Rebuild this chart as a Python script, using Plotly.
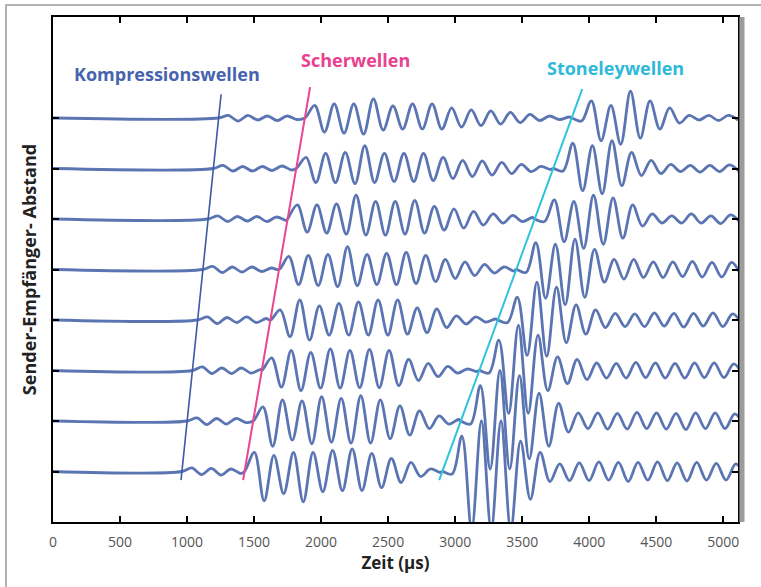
import plotly.graph_objects as go

# Vertical offsets of the eight receiver traces, from the farthest (top) to the nearest (bottom)
trace_offsets = [8, 7, 6, 5, 4, 3, 2, 1]

# Arrival times in µs at each receiver: compressional, shear and Stoneley onsets
p_arrival = [1235, 1196, 1157, 1118, 1079, 1040, 1001, 962]
s_arrival = [1879, 1815, 1750, 1686, 1622, 1558, 1493, 1429]
st_arrival = [3870, 3732, 3594, 3456, 3318, 3180, 3042, 2904]

# Time between successive peaks and troughs of the waveforms (µs)
half_period = 73

# Peak/trough amplitudes after each onset (one list per receiver, top to bottom)
p_peaks = [
    [0, 0.05, -0.06, 0.05, -0.04, 0.04, -0.05, 0.04, -0.03],
    [0, 0.06, -0.05, 0.04, -0.05, 0.04, -0.04, 0.05, -0.03],
    [0, 0.06, -0.05, 0.05, -0.04, 0.05, -0.05, 0.04, -0.03],
    [0, 0.06, -0.06, 0.05, -0.05, 0.05, -0.04, 0.03],
    [0, 0.06, -0.07, 0.05, -0.05, 0.06, -0.05, 0.03],
    [0, 0.07, -0.06, 0.05, -0.06, 0.05, -0.05, 0.02],
    [0, 0.06, -0.07, 0.05, -0.06, 0.05, -0.03],
    [0, 0.07, -0.06, 0.06, -0.07, 0.05, -0.04],
]
s_peaks = [
    [0, 0.25, -0.28, 0.28, -0.30, 0.28, -0.32, 0.38, -0.24, 0.24, -0.22, 0.28, -0.22, 0.28,
     -0.22, 0.20, -0.18, 0.16, -0.15, 0.14, -0.12, 0.11, -0.09, 0.07, -0.05, 0.04, -0.03, 0.02],
    [0, 0.22, -0.28, 0.30, -0.28, 0.32, -0.30, 0.45, -0.28, 0.30, -0.26, 0.30, -0.26, 0.30,
     -0.24, 0.22, -0.20, 0.16, -0.16, 0.15, -0.13, 0.12, -0.10, 0.08, -0.06, 0.04, -0.02],
    [0, 0.28, -0.26, 0.28, -0.28, 0.30, -0.30, 0.47, -0.32, 0.35, -0.32, 0.35, -0.30, 0.37,
     -0.28, 0.25, -0.22, 0.20, -0.18, 0.15, -0.12, 0.10, -0.08, 0.07, -0.05, 0.03],
    [0, 0.26, -0.30, 0.28, -0.32, 0.30, -0.34, 0.45, -0.32, 0.30, -0.30, 0.32, -0.30, 0.34,
     -0.28, 0.28, -0.24, 0.20, -0.18, 0.15, -0.12, 0.10, -0.07, 0.05, -0.03],
    [0, 0.20, -0.33, 0.40, -0.40, 0.28, -0.30, 0.33, -0.30, 0.36, -0.30, 0.40, -0.30, 0.40,
     -0.28, 0.24, -0.25, 0.22, -0.15, 0.08, -0.08, 0.06, -0.04, 0.02],
    [0, 0.25, -0.33, 0.40, -0.40, 0.36, -0.35, 0.43, -0.35, 0.40, -0.34, 0.42, -0.34, 0.40,
     -0.30, 0.22, -0.20, 0.14, -0.12, 0.08, -0.05, 0.03, -0.02],
    [0, 0.28, -0.50, 0.42, -0.38, 0.40, -0.45, 0.48, -0.42, 0.45, -0.44, 0.50, -0.44, 0.42,
     -0.35, 0.30, -0.28, 0.20, -0.15, 0.10, -0.06, 0.03],
    [0, 0.38, -0.58, 0.32, -0.44, 0.38, -0.60, 0.38, -0.40, 0.42, -0.38, 0.45, -0.38, 0.36,
     -0.32, 0.26, -0.22, 0.18, -0.10, 0.05, -0.02],
]
st_peaks = [
    [0, -0.06, 0.34, -0.45, 0.25, -0.52, 0.53, -0.40, 0.34, -0.22, 0.20, -0.10, 0.05, -0.04,
     0.05, -0.05, 0.05, -0.04],
    [0, -0.05, 0.50, -0.44, 0.45, -0.50, 0.55, -0.34, 0.32, -0.14, 0.16, -0.10, 0.08, -0.06,
     0.06, -0.07, 0.06, -0.06, 0.07, -0.06],
    [0, -0.05, 0.38, -0.45, 0.35, -0.58, 0.47, -0.50, 0.42, -0.38, 0.28, -0.14, 0.10, -0.08,
     0.06, -0.08, 0.10, -0.08, 0.06, -0.09, 0.08, -0.07],
    [0, -0.06, 0.53, -0.57, 0.50, -0.70, 0.60, -0.55, 0.40, -0.25, 0.20, -0.19, 0.20, -0.16,
     0.15, -0.16, 0.15, -0.14, 0.16, -0.15, 0.14, -0.15, 0.14, -0.13],
    [0, -0.05, 0.45, -0.70, 0.75, -0.72, 0.65, -0.45, 0.30, -0.28, 0.20, -0.15, 0.13, -0.13,
     0.12, -0.13, 0.14, -0.12, 0.13, -0.14, 0.13, -0.12, 0.14, -0.13, 0.12, -0.10],
    [0, -0.05, 0.60, -0.85, 0.90, -0.85, 0.70, -0.40, 0.27, -0.26, 0.22, -0.18, 0.15, -0.15,
     0.14, -0.15, 0.16, -0.14, 0.15, -0.15, 0.14, -0.15, 0.15, -0.14, 0.15, -0.14, 0.13, -0.12],
    [0, -0.06, 0.70, -0.95, 1.00, -0.95, 0.90, -0.75, 0.55, -0.50, 0.35, -0.22, 0.16, -0.15,
     0.16, -0.16, 0.15, -0.16, 0.17, -0.15, 0.16, -0.16, 0.15, -0.17, 0.16, -0.15, 0.16, -0.15,
     0.14, -0.12],
    [0, -0.05, 0.70, -1.15, 1.00, -1.15, 1.00, -1.15, 0.60, -0.55, 0.38, -0.20, 0.15, -0.18,
     0.17, -0.18, 0.19, -0.17, 0.18, -0.20, 0.18, -0.17, 0.19, -0.18, 0.17, -0.19, 0.18, -0.17,
     0.16, -0.17, 0.15, -0.14],
]

# Arrival pick lines (time in µs, trace offset) for the three wave types
p_pick_t, p_pick_y = [955, 1254], [0.83, 8.47]
s_pick_t, s_pick_y = [1418, 1918], [0.83, 8.61]
st_pick_t, st_pick_y = [2881, 3948], [0.83, 8.57]

x_ticks = [0, 500, 1000, 1500, 2000, 2500, 3000, 3500, 4000, 4500, 5000]
x_max = 5110

wave_color = "#5b75b3"
p_color = "#3d5aa6"
s_color = "#ea4590"
st_color = "#2ec3dc"

fig = go.Figure()

for i, off in enumerate(trace_offsets):
    xs, ys = [0], [off]
    segments = [
        (p_arrival[i], s_arrival[i], p_peaks[i]),
        (s_arrival[i], st_arrival[i], s_peaks[i]),
        (st_arrival[i], x_max + 2 * half_period, st_peaks[i]),
    ]
    for start, end, amps in segments:
        for k, a in enumerate(amps):
            t = start + k * half_period
            if t >= end:
                break
            xs.append(t)
            ys.append(off + a)
    fig.add_trace(go.Scatter(
        x=xs, y=ys, mode="lines",
        line=dict(color=wave_color, width=2.8, shape="spline", smoothing=1.0),
        hoverinfo="skip", showlegend=False,
    ))

for t, y, c, w in [(p_pick_t, p_pick_y, p_color, 1.6),
                   (s_pick_t, s_pick_y, s_color, 2.0),
                   (st_pick_t, st_pick_y, st_color, 2.0)]:
    fig.add_trace(go.Scatter(x=t, y=y, mode="lines", line=dict(color=c, width=w),
                             hoverinfo="skip", showlegend=False))

base_font = "Open Sans, Lato, sans-serif"
label_font = dict(family=base_font, size=18, weight="bold")
fig.add_annotation(x=851, y=8.87, text="Kompressionswellen", showarrow=False,
                   font=dict(label_font, color="#4763ad"))
fig.add_annotation(x=2254, y=9.15, text="Scherwellen", showarrow=False,
                   font=dict(label_font, color="#e9418f"))
fig.add_annotation(x=4194, y=9.0, text="Stoneleywellen", showarrow=False,
                   font=dict(label_font, color="#2fb9d9"))

# light outer frame and the grey edge on the right of the plot box
fig.add_shape(type="rect", xref="paper", yref="paper", x0=-0.0686, y0=-0.2, x1=1.2, y1=1.0238,
              line=dict(color="#9a9a9a", width=1.5), layer="below")
fig.add_shape(type="rect", xref="paper", yref="paper", x0=1.002, y0=0, x1=1.0095, y1=1.0,
              line=dict(width=0), fillcolor="#9c9c9c", layer="above")

fig.update_layout(
    width=761, height=587,
    margin=dict(l=53, r=23, t=17, b=65),
    paper_bgcolor="white", plot_bgcolor="white",
    font=dict(family=base_font, color="#333333"),
    xaxis=dict(
        range=[0, x_max], tickvals=x_ticks, ticktext=[str(v) for v in x_ticks],
        ticks="inside", ticklen=6, tickwidth=2, tickcolor="black",
        showline=True, linecolor="black", linewidth=2, mirror="ticks",
        showgrid=False, zeroline=False, ticklabelstandoff=6,
        tickfont=dict(size=14, color="#555555"),
        title=dict(text="Zeit (µs)", font=dict(size=17, weight="bold", color="#222222"),
                   standoff=6),
    ),
    yaxis=dict(
        range=[0, 10], tickvals=trace_offsets, showticklabels=False,
        ticks="inside", ticklen=6, tickwidth=2, tickcolor="black",
        showline=True, linecolor="black", linewidth=2, mirror="ticks",
        showgrid=False, zeroline=False,
        title=dict(text="Sender-Empfänger- Abstand",
                   font=dict(size=18, weight="bold", color="#222222"), standoff=10),
    ),
)

fig.write_html("out.html")
